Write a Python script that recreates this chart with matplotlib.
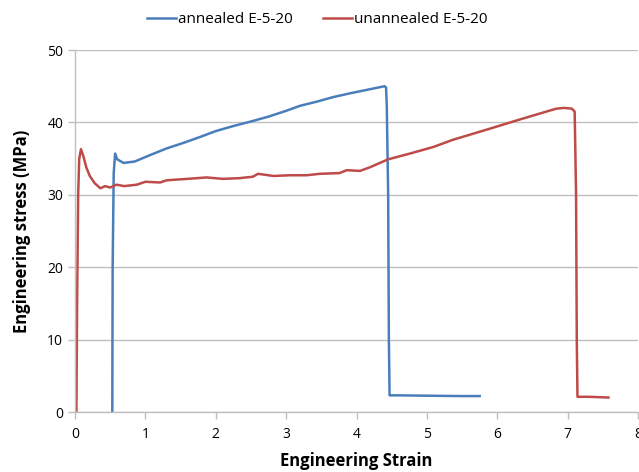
import matplotlib
matplotlib.use("Agg")
import matplotlib.pyplot as plt

# annealed E-5-20 (strain, stress)
annealed_x = [0.53, 0.535, 0.55, 0.57, 0.60, 0.69, 0.85, 1.07, 1.30, 1.55, 1.78, 2.0, 2.25,
              2.49, 2.75, 3.0, 3.20, 3.45, 3.67, 3.90, 4.15, 4.40, 4.42, 4.43, 4.45, 4.46,
              4.47, 4.60, 5.00, 5.50, 5.75]
annealed_y = [0.0, 20.0, 33.0, 35.7, 34.9, 34.4, 34.6, 35.5, 36.4, 37.2, 38.0, 38.8, 39.5,
              40.1, 40.8, 41.6, 42.3, 42.9, 43.5, 44.0, 44.5, 45.0, 44.8, 42.4, 30.0, 10.0,
              2.3, 2.3, 2.25, 2.2, 2.2]

# unannealed E-5-20 (strain, stress)
unannealed_x = [0.02, 0.03, 0.045, 0.06, 0.085, 0.12, 0.16, 0.21, 0.28, 0.36, 0.43, 0.50,
                0.59, 0.70, 0.88, 1.0, 1.21, 1.30, 1.44, 1.60, 1.87, 2.10, 2.34, 2.53, 2.60,
                2.82, 3.05, 3.29, 3.48, 3.76, 3.86, 4.05, 4.19, 4.45, 4.76, 5.09, 5.37, 5.85,
                6.32, 6.70, 6.84, 6.95, 7.06, 7.10, 7.12, 7.13, 7.14, 7.30, 7.58]
unannealed_y = [0.0, 15.0, 30.0, 35.0, 36.3, 35.3, 33.8, 32.6, 31.6, 30.9, 31.2, 31.0,
                31.4, 31.2, 31.4, 31.8, 31.7, 32.0, 32.1, 32.2, 32.4, 32.2, 32.3, 32.5, 32.9,
                32.6, 32.7, 32.7, 32.9, 33.0, 33.4, 33.3, 33.8, 34.9, 35.7, 36.6, 37.6, 39.0,
                40.4, 41.5, 41.9, 42.0, 41.9, 41.5, 30.0, 10.0, 2.1, 2.1, 2.0]

x_ticks = [0, 1, 2, 3, 4, 5, 6, 7, 8]
y_ticks = [0, 10, 20, 30, 40, 50]

plt.rcParams['font.family'] = ['Open Sans', 'DejaVu Sans']
grey = '#bfbfbf'

fig = plt.figure(figsize=(6.39, 4.72), dpi=100)
ax = fig.add_axes([75 / 639, 1 - 412 / 472, 563 / 639, 362 / 472])

ax.plot(annealed_x, annealed_y, color='#4a7ebb', lw=1.8, label='annealed E-5-20')
ax.plot(unannealed_x, unannealed_y, color='#be4b48', lw=1.8, label='unannealed E-5-20')

ax.set_xlim(0, 8)
ax.set_ylim(0, 50)
ax.set_xticks(x_ticks)
ax.set_yticks(y_ticks)
ax.grid(axis='y', color=grey, lw=1)
ax.set_axisbelow(True)
for s in ['top', 'right']:
    ax.spines[s].set_visible(False)
for s in ['left', 'bottom']:
    ax.spines[s].set_color(grey)
    ax.spines[s].set_linewidth(1)
ax.tick_params(colors=grey, labelcolor='black', labelsize=10, length=5, width=1)
ax.tick_params(axis='x', pad=6)

ax.set_xlabel('Engineering Strain', fontsize=12, fontweight='bold', labelpad=7)
ax.set_ylabel('Engineering stress (MPa)', fontsize=12, fontweight='bold', labelpad=12)

ax.legend(loc='lower center', bbox_to_anchor=(0.43, 1.025), ncol=2, frameon=False,
          fontsize=11, handlelength=1.9, handletextpad=0.1, columnspacing=2.0)

fig.savefig('out.png', dpi=100)
